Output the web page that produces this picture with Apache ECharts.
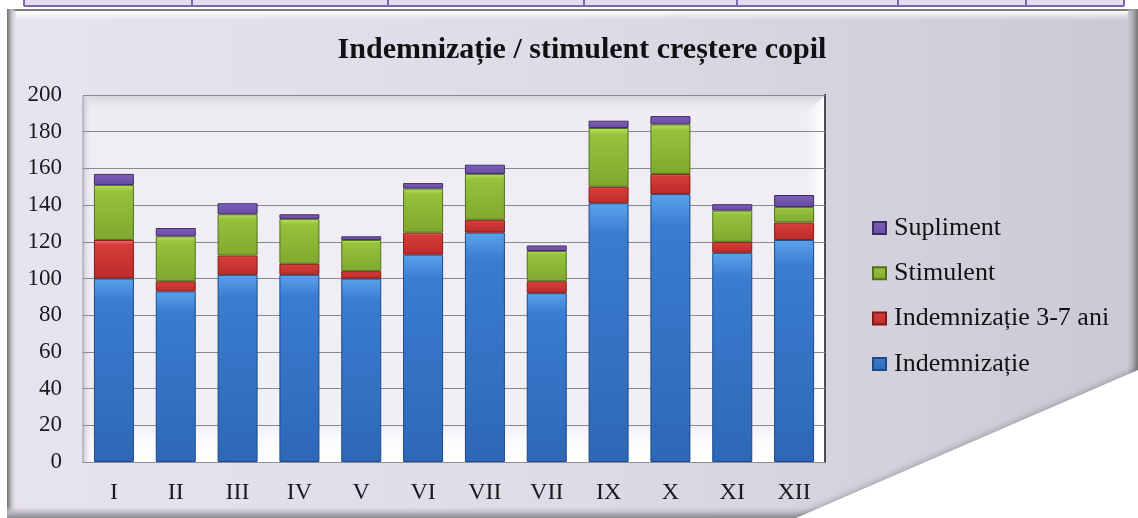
<!DOCTYPE html>
<html>
<head>
<meta charset="utf-8">
<title>Indemnizație / stimulent creștere copil</title>
<script src="https://cdn.jsdelivr.net/npm/echarts@6/dist/echarts.min.js"></script>
<style>
  html, body { margin: 0; padding: 0; background: #ffffff; }
  #chart { width: 1138px; height: 518px; }
</style>
</head>
<body>
<div id="chart"></div>
<script>
// -- Data --
const months = ['I', 'II', 'III', 'IV', 'V', 'VI', 'VII', 'VII', 'IX', 'X', 'XI', 'XII'];
const indemnizatie = [100, 93, 102, 102, 100, 113, 125, 92, 141, 146, 114, 121];
const indemnizatie37 = [21, 5.5, 10.5, 6, 4, 12, 7, 6.5, 9, 11, 6, 9.5];
const stimulent = [30, 24.5, 22.5, 24.5, 17, 24, 25, 16.5, 32, 27, 17, 8.5];
const supliment = [6, 4.5, 6, 2.5, 2, 3, 5, 3, 4, 4.5, 3.5, 6.5];
const yTicks = { min: 0, max: 200, interval: 20 };

// -- Colors (Excel "bevel" look) --
const SERIF = '"Liberation Serif", "DejaVu Serif", serif';
const PALETTE = {
  blue: ['#5aa2ec', '#3a7cd0', '#2d68b6', '#1d4a86'],
  red: ['#f27470', '#d63c38', '#bb2c2a', '#7e1c1a'],
  green: ['#bde060', '#96c23c', '#80a82e', '#52701c'],
  purple: ['#a88cdc', '#7c5cba', '#684ba0', '#402d66']
};

function barStyle(c) {
  return {
    color: new echarts.graphic.LinearGradient(0, 0, 0, 1, [
      { offset: 0, color: c[0] },
      { offset: 0.12, color: c[1] },
      { offset: 1, color: c[2] }
    ]),
    borderColor: c[3],
    borderWidth: 1
  };
}

function makeSeries(name, data, c) {
  return {
    name: name,
    type: 'bar',
    stack: 'total',
    barWidth: 40,
    data: data,
    itemStyle: barStyle(c),
    emphasis: { disabled: true }
  };
}

// -- Decorations: table strip, panel frame, back wall, page curl --
const tableCols = [24, 192, 388, 584, 737, 898, 1026, 1124];

function decorations() {
  const els = [];
  // table strip at the top
  els.push({ type: 'rect', z: -20, shape: { x: 24, y: 0, width: 1100, height: 6 },
    style: { fill: '#e4dff0' } });
  els.push({ type: 'line', z: -19, shape: { x1: 24, y1: 6, x2: 1124, y2: 6 },
    style: { stroke: '#7d65b0', lineWidth: 2 } });
  tableCols.forEach(x => {
    els.push({ type: 'line', z: -19, shape: { x1: x, y1: 0, x2: x, y2: 6 },
      style: { stroke: '#7d65b0', lineWidth: 2 } });
  });

  // panel body
  els.push({ type: 'rect', z: -20, shape: { x: 7, y: 9, width: 1129, height: 509 },
    style: { fill: new echarts.graphic.LinearGradient(0, 0, 1, 0, [
      { offset: 0, color: '#e8e3f0' },
      { offset: 0.5, color: '#dedae6' },
      { offset: 1, color: '#cdc9d4' }
    ]) } });
  // top edge + highlight
  els.push({ type: 'rect', z: -19, shape: { x: 7, y: 9, width: 1129, height: 2 },
    style: { fill: '#7b7b7b' } });
  els.push({ type: 'rect', z: -19, shape: { x: 16, y: 11, width: 1112, height: 9 },
    style: { fill: new echarts.graphic.LinearGradient(0, 0, 0, 1, [
      { offset: 0, color: 'rgba(255,255,255,0.95)' },
      { offset: 1, color: 'rgba(255,255,255,0)' }
    ]) } });
  // left edge
  els.push({ type: 'rect', z: -19, shape: { x: 7, y: 9, width: 10, height: 509 },
    style: { fill: new echarts.graphic.LinearGradient(0, 0, 1, 0, [
      { offset: 0, color: '#6f6f6f' },
      { offset: 0.4, color: '#b9b7bd' },
      { offset: 1, color: 'rgba(230,226,236,0)' }
    ]) } });
  // right edge
  els.push({ type: 'rect', z: -19, shape: { x: 1126, y: 9, width: 12, height: 509 },
    style: { fill: new echarts.graphic.LinearGradient(0, 0, 1, 0, [
      { offset: 0, color: 'rgba(205,201,212,0)' },
      { offset: 0.6, color: '#a9a6ae' },
      { offset: 1, color: '#747474' }
    ]) } });
  // bottom edge
  els.push({ type: 'rect', z: -19, shape: { x: 7, y: 506, width: 1129, height: 12 },
    style: { fill: new echarts.graphic.LinearGradient(0, 0, 0, 1, [
      { offset: 0, color: 'rgba(220,216,226,0)' },
      { offset: 0.6, color: '#b4b1b9' },
      { offset: 1, color: '#8a8a8a' }
    ]) } });

  // back wall of the plot (3D look)
  els.push({ type: 'rect', z: -15, shape: { x: 83, y: 95, width: 742, height: 367 },
    style: { fill: new echarts.graphic.LinearGradient(0, 0, 0, 1, [
      { offset: 0, color: '#efecf4' },
      { offset: 0.9, color: '#f1eff6' },
      { offset: 0.94, color: '#fbfbfd' },
      { offset: 1, color: '#ffffff' }
    ]) } });
  els.push({ type: 'rect', z: -14, shape: { x: 83, y: 95, width: 742, height: 20 },
    style: { fill: new echarts.graphic.LinearGradient(0, 0, 0, 1, [
      { offset: 0, color: '#d6d2dc' },
      { offset: 0.3, color: '#e4e1e9' },
      { offset: 1, color: 'rgba(239,236,244,0)' }
    ]) } });
  els.push({ type: 'polygon', z: -14, shape: { points: [[805, 115], [825, 95], [825, 462], [805, 462]] },
    style: { fill: new echarts.graphic.LinearGradient(0, 0, 1, 0, [
      { offset: 0, color: 'rgba(255,255,255,0)' },
      { offset: 1, color: '#ffffff' }
    ]) } });
  els.push({ type: 'rect', z: -14, shape: { x: 83, y: 95, width: 10, height: 367 },
    style: { fill: new echarts.graphic.LinearGradient(0, 0, 1, 0, [
      { offset: 0, color: '#cfcbd5' },
      { offset: 1, color: 'rgba(239,236,244,0)' }
    ]) } });
  els.push({ type: 'line', z: -13, shape: { x1: 825, y1: 94, x2: 825, y2: 463 },
    style: { stroke: '#4a4a52', lineWidth: 2 } });
  els.push({ type: 'line', z: -13, shape: { x1: 83, y1: 96, x2: 83, y2: 463 },
    style: { stroke: '#9c9aa2', lineWidth: 1 } });

  // page curl: white triangle at bottom right
  els.push({ type: 'polygon', z: 50, shape: { points: [[796, 518], [1138, 370], [1138, 518]] },
    style: { fill: '#ffffff', shadowBlur: 6, shadowColor: 'rgba(0,0,0,0.25)', shadowOffsetX: -1, shadowOffsetY: -1 } });
  els.push({ type: 'rect', z: 51, shape: { x: 1138, y: 360, width: 10, height: 170 },
    style: { fill: '#ffffff' } });
  return els;
}

// -- Chart --
const chart = echarts.init(document.getElementById('chart'), null, { renderer: 'canvas' });

chart.setOption({
  animation: false,
  backgroundColor: '#ffffff',
  graphic: decorations(),
  title: {
    text: 'Indemnizație / stimulent creștere copil',
    left: 577,
    top: 30,
    textAlign: 'center',
    textStyle: { fontFamily: SERIF, fontWeight: 'bold', fontSize: 30, color: '#111111' }
  },
  legend: {
    orient: 'vertical',
    left: 867,
    top: 210,
    itemWidth: 13,
    itemHeight: 12,
    itemGap: 19.3,
    icon: 'rect',
    data: ['Supliment', 'Stimulent', 'Indemnizație 3-7 ani', 'Indemnizație'],
    textStyle: { fontFamily: SERIF, fontSize: 26, color: '#111111', lineHeight: 26, padding: [0, 0, 0, 3] }
  },
  grid: { left: 83, right: 313, top: 95, bottom: 56, containLabel: false },
  xAxis: {
    type: 'category',
    data: months,
    axisLine: { show: true, lineStyle: { color: '#8e8c94', width: 1 } },
    axisTick: { show: false },
    axisLabel: { fontFamily: SERIF, fontSize: 24, color: '#1a1a1a', margin: 19 }
  },
  yAxis: {
    type: 'value',
    min: yTicks.min,
    max: yTicks.max,
    interval: yTicks.interval,
    axisLine: { show: false },
    axisTick: { show: false },
    axisLabel: { fontFamily: SERIF, fontSize: 23, color: '#1a1a1a', margin: 21 },
    splitLine: { lineStyle: { color: '#8a8890', width: 1 } }
  },
  series: [
    makeSeries('Indemnizație', indemnizatie, PALETTE.blue),
    makeSeries('Indemnizație 3-7 ani', indemnizatie37, PALETTE.red),
    makeSeries('Stimulent', stimulent, PALETTE.green),
    makeSeries('Supliment', supliment, PALETTE.purple)
  ]
});
</script>
</body>
</html>
